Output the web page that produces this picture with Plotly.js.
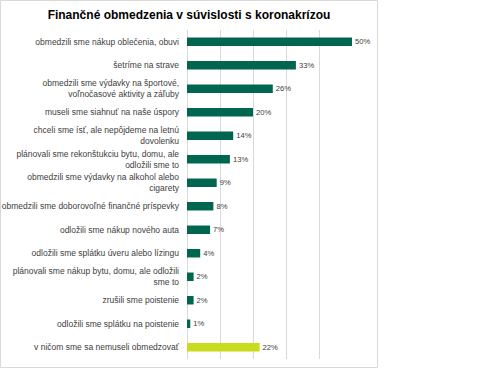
<!DOCTYPE html>
<html>
<head>
<meta charset="utf-8">
<script src="https://cdn.plot.ly/plotly-3.0.1.min.js"></script>
<style>html,body{margin:0;padding:0;background:#fff;}#chart{width:500px;height:375px;}</style>
</head>
<body>
<div id="chart"></div>
<script>
const categories = [
  "obmedzili sme nákup oblečenia, obuvi",
  "šetríme na strave",
  "obmedzili sme výdavky na športové,<br>voľnočasové aktivity a záľuby",
  "museli sme siahnuť na naše úspory",
  "chceli sme ísť, ale nepôjdeme na letnú<br>dovolenku",
  "plánovali sme rekonštukciu bytu, domu, ale<br>odložili sme to",
  "obmedzili sme výdavky na alkohol alebo<br>cigarety",
  "obmedzili sme doborovoľné finančné príspevky",
  "odložili sme nákup nového auta",
  "odložili sme splátku úveru alebo lízingu",
  "plánovali sme nákup bytu, domu, ale odložili<br>sme to",
  "zrušili sme poistenie",
  "odložili sme splátku na poistenie",
  "v ničom sme sa nemuseli obmedzovať"
];
const values = [50, 33, 26, 20, 14, 13, 9, 8, 7, 4, 2, 2, 1, 22];
const barColors = ["#00664f","#00664f","#00664f","#00664f","#00664f","#00664f","#00664f","#00664f","#00664f","#00664f","#00664f","#00664f","#00664f","#c8dc1e"];
const titleText = "Finančné obmedzenia v súvislosti s koronakrízou";

const trace = {
  type: "bar",
  orientation: "h",
  y: categories,
  x: values,
  marker: {color: barColors},
  text: values.map(v => v + "%"),
  textposition: "outside",
  cliponaxis: false,
  textfont: {family: "Liberation Sans, Arial, sans-serif", size: 9, color: "#404040"},
  hoverinfo: "none"
};

const pw = 165, ph = 329, ml = 187, mt = 30;
function px(x){ return (x - ml) / pw; }
function py(y){ return (mt + ph - y) / ph; }

const layout = {
  width: 500, height: 375,
  margin: {l: ml, r: 500 - ml - pw, t: mt, b: 375 - mt - ph, pad: 0},
  paper_bgcolor: "#fff", plot_bgcolor: "#fff",
  bargap: 0.64,
  showlegend: false,
  title: {text: "<b>" + titleText + "</b>", x: px(189) , xref: "paper", xanchor: "center", y: 1 - 15/375, yanchor: "middle",
          font: {family: "Liberation Sans, Arial, sans-serif", size: 12, color: "#000"}},
  xaxis: {range: [0, 50], dtick: 10, showgrid: true, gridcolor: "#d9d9d9", gridwidth: 1,
          zeroline: true, zerolinecolor: "#d9d9d9", zerolinewidth: 1,
          showticklabels: false, ticks: "", showline: false, fixedrange: true},
  yaxis: {autorange: "reversed", showgrid: false, showline: false, ticks: "", ticklen: 0,
          tickfont: {family: "Liberation Sans, Arial, sans-serif", size: 8.5, color: "#404040"},
          ticklabelstandoff: 7},
  shapes: [{type: "rect", xref: "paper", yref: "paper", x0: px(0.5), x1: px(377.5), y0: py(367.5), y1: py(0.5),
            line: {color: "#d9d9d9", width: 1}, fillcolor: "rgba(0,0,0,0)", layer: "below"}]
};

Plotly.newPlot("chart", [trace], layout, {displayModeBar: false, staticPlot: true});
</script>
</body>
</html>
